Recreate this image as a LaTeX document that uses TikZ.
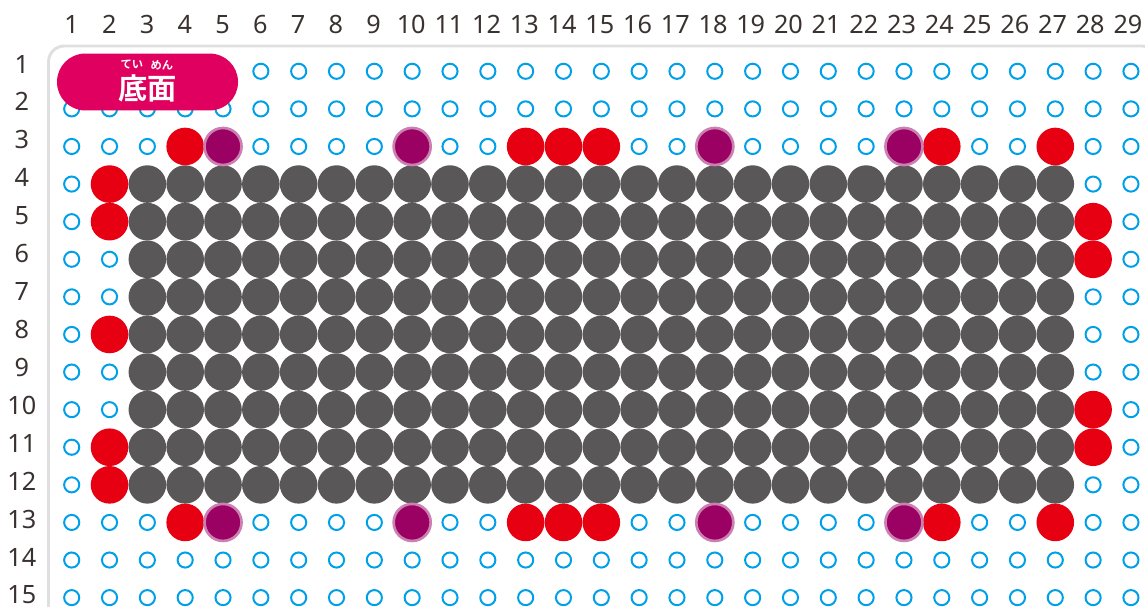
\documentclass[tikz,border=0pt]{standalone}
\usepackage{xcolor}
\usepackage{fontspec}
\setmainfont{Noto Sans}
\newfontfamily\cjkbold[BoldFont={Noto Sans CJK JP Bold}]{Noto Sans CJK JP}
\usepackage{tikz}
\usetikzlibrary{positioning}
\definecolor{holeblue}{HTML}{00A0E9}
\definecolor{beadgrey}{HTML}{595757}
\definecolor{beadred}{HTML}{E60012}
\definecolor{beadpurple}{HTML}{9B0063}
\definecolor{ringpurple}{HTML}{CB80B1}
\definecolor{pillpink}{HTML}{E0005F}
\definecolor{panelgrey}{HTML}{DFDFDF}
\definecolor{numink}{HTML}{3A3230}
\tikzstyle{holenode}=[circle, draw=holeblue, line width=1.5pt, inner sep=0pt, minimum size=0.4cm]
\tikzstyle{greynode}=[circle, fill=beadgrey, inner sep=0pt, minimum size=0.995cm]
\tikzstyle{rednode}=[circle, fill=beadred, inner sep=0pt, minimum size=0.995cm]
\tikzstyle{purplenode}=[circle, fill=beadpurple, draw=ringpurple, line width=2pt, inner sep=0pt, minimum size=0.98cm]
\tikzstyle{numnode}=[text=numink, inner sep=0pt, text height=13.6pt, text depth=0pt, font=\fontsize{19}{20}\selectfont]
\tikzstyle{pillnode}=[rectangle, fill=pillpink, rounded corners=0.75cm, minimum width=4.79cm, minimum height=1.508cm]
\tikzstyle{rubynode}=[text=white, inner sep=0pt, font=\cjkbold\bfseries\fontsize{8.5}{9}\selectfont]
\tikzstyle{titlenode}=[text=white, inner sep=0pt, font=\cjkbold\bfseries\fontsize{22}{23}\selectfont]

\begin{document}
\begin{tikzpicture}[x=1.001cm, y=-0.9948cm]
        \clip (-0.8953,-0.8963) rectangle (29.372,15.247);
        \draw[panelgrey, line width=2.2pt, rounded corners=0.42cm] (0.387,16.2) -- (0.387,0.327) -- (29.7,0.327) -- (29.7,16.2);
        % numbers
        \foreach \c in {1,...,29}
          \node[numnode] (col\c) at ({1+(\c-1)*0.9972},-0.258) {\c};
        \foreach \r in {1,...,15}
          \node[numnode] (row\r) at (-0.316,{0.806+(\r-1)*1.0088}) {\r};
        % holes
        \foreach \r in {1,...,15}
          \foreach \c in {1,...,29}
            \node[holenode] (hole\c-\r) at (\c,\r) {};
        % beads
        \foreach \r in {4,...,12}
          \foreach \c in {3,...,27}
            \node[greynode] (grey\c-\r) at (\c,\r) {};
        \foreach \c/\r in {4/3,13/3,14/3,15/3,24/3,27/3,4/13,13/13,14/13,15/13,24/13,27/13,2/4,2/5,2/8,2/11,2/12,28/5,28/6,28/10,28/11}
          \node[rednode] (red\c-\r) at (\c,\r) {};
        \foreach \c/\r in {5/3,10/3,18/3,23/3,5/13,10/13,18/13,23/13}
          \node[purplenode] (purple\c-\r) at (\c,\r) {};
        % label
        \node[pillnode] (pill) at (3.004,1.285) {};
        \node[titlenode] (title) at (3.004,1.444) {底面};
        \node[rubynode] (rubyA) at (2.594,0.832) {てい};
        \node[rubynode] (rubyB) at (3.387,0.832) {めん};
      \end{tikzpicture}
\end{document}
